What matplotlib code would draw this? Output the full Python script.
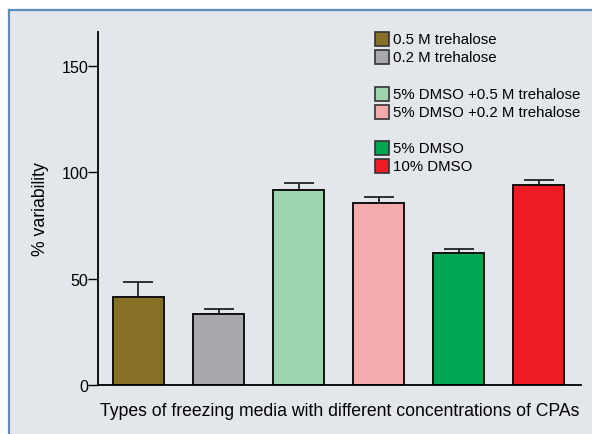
import matplotlib
matplotlib.use('Agg')
import matplotlib.pyplot as plt
from matplotlib.patches import Rectangle

# Values
media = ['0.5 M trehalose', '0.2 M trehalose',
         '5% DMSO +0.5 M trehalose', '5% DMSO +0.2 M trehalose',
         '5% DMSO', '10% DMSO']
variability = [41.6, 33.2, 91.9, 85.8, 62.1, 94.0]
errors = [6.8, 2.6, 3.1, 2.6, 1.9, 2.4]
colors = ['#857025', '#a8a9ad', '#9dd4ad', '#f5aaad', '#00a651', '#ed1c24']
yticks = [0, 50, 100, 150]

plt.rcParams['font.family'] = ['Liberation Sans', 'DejaVu Sans']
plt.rcParams['font.size'] = 10.8

W, H = 592, 435
fig = plt.figure(figsize=(W / 100, H / 100), dpi=100)
fig.patch.set_facecolor('white')

# Light panel with a blue frame on its top and left edges
bg = '#e3e6eb'
fig.patches.append(Rectangle((9 / W, 0), 1, 1 - 11 / H, transform=fig.transFigure,
                             facecolor=bg, edgecolor='none', zorder=-5))
fig.lines.append(plt.Line2D([9 / W, 9 / W], [0, 1 - 11 / H], transform=fig.transFigure,
                            color='#5b8bbf', lw=1.6, zorder=-4))
fig.lines.append(plt.Line2D([9 / W, 1], [1 - 11 / H, 1 - 11 / H], transform=fig.transFigure,
                            color='#5b8bbf', lw=1.6, zorder=-4))

ax = fig.add_axes([98 / W, 1 - 386 / H, (581 - 98) / W, (386 - 33) / H])
ax.set_facecolor('none')

x = list(range(len(media)))
ax.bar(x, variability, width=0.64, color=colors, edgecolor='#111111', linewidth=1.4, zorder=2)
ax.errorbar(x, variability, yerr=[[0] * len(errors), errors], fmt='none',
            ecolor='#222222', elinewidth=1.3, capsize=11, capthick=1.3, zorder=1)

ax.set_xlim(-0.506, 5.53)
ax.set_ylim(0, 166)
ax.set_yticks(yticks)
ax.set_xticks([])
ax.spines['top'].set_visible(False)
ax.spines['right'].set_visible(False)
ax.spines['left'].set_linewidth(1.3)
ax.spines['bottom'].set_linewidth(1.3)
ax.tick_params(axis='y', length=7, width=1.0, pad=0, labelsize=11.6)

ax.set_ylabel('% variability', fontsize=12.7, labelpad=9)
ax.set_xlabel('Types of freezing media with different concentrations of CPAs',
              fontsize=12.7, labelpad=12)

# Legend in three groups of two
rows_y = [40, 57.7, 95, 112.7, 149.3, 166.7]
for label, c, yy in zip(media, colors, rows_y):
    fig.patches.append(Rectangle((375 / W, 1 - (yy + 7) / H), 14 / W, 14 / H,
                                 transform=fig.transFigure, facecolor=c,
                                 edgecolor='#333333', lw=1.2, zorder=3))
    fig.text(393 / W, 1 - yy / H, label, va='center', ha='left')

fig.savefig('out.png', dpi=100, facecolor=fig.get_facecolor())
